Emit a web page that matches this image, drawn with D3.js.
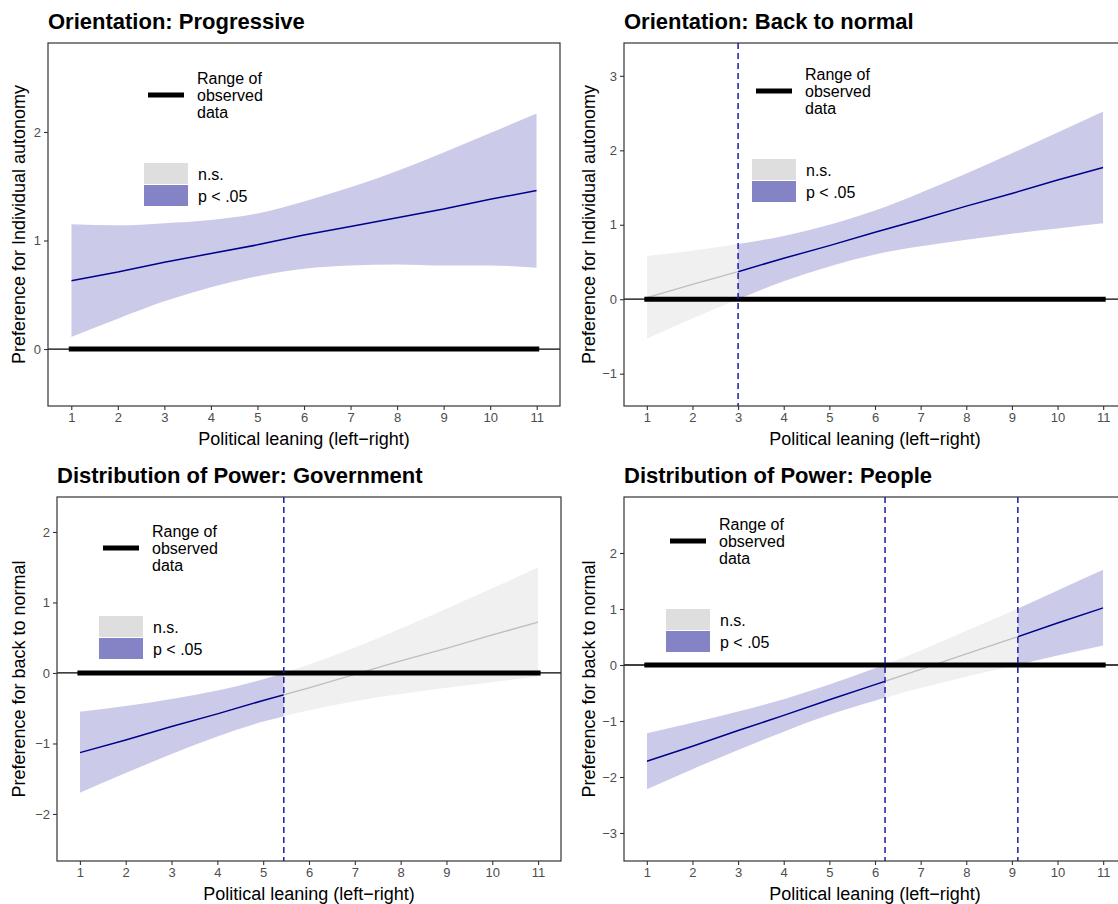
<!DOCTYPE html>
<html>
<head>
<meta charset="utf-8">
<script src="https://cdn.jsdelivr.net/npm/d3@7"></script>
<style>
  body { margin: 0; background: #fff; }
  svg { display: block; font-family: "Liberation Sans", Arial, Helvetica, sans-serif; }
</style>
</head>
<body>
<div id="chart"></div>
<script>
const width = 1118;
const height = 904;

// political leaning values (x) and tick labels
const leaning = [1, 2, 3, 4, 5, 6, 7, 8, 9, 10, 11];
const xTicks = [1, 2, 3, 4, 5, 6, 7, 8, 9, 10, 11];

// Orientation: Progressive
const progFit   = [0.63, 0.71, 0.80, 0.88, 0.96, 1.05, 1.13, 1.21, 1.29, 1.38, 1.46];
const progUpper = [1.15, 1.14, 1.16, 1.19, 1.25, 1.36, 1.49, 1.64, 1.81, 1.99, 2.17];
const progLower = [0.11, 0.28, 0.44, 0.57, 0.67, 0.74, 0.77, 0.78, 0.77, 0.77, 0.75];

// Orientation: Back to normal
const normFit   = [0.02, 0.20, 0.37, 0.55, 0.72, 0.90, 1.07, 1.25, 1.42, 1.60, 1.77];
const normUpper = [0.58, 0.65, 0.74, 0.85, 1.00, 1.19, 1.43, 1.69, 1.96, 2.24, 2.52];
const normLower = [-0.53, -0.26, 0.00, 0.24, 0.44, 0.60, 0.71, 0.80, 0.88, 0.95, 1.02];

// Distribution of Power: Government
const govFit   = [-1.13, -0.95, -0.76, -0.58, -0.39, -0.21, -0.02, 0.17, 0.35, 0.54, 0.72];
const govUpper = [-0.55, -0.47, -0.37, -0.25, -0.09, 0.12, 0.36, 0.63, 0.91, 1.20, 1.50];
const govLower = [-1.70, -1.42, -1.15, -0.90, -0.69, -0.53, -0.40, -0.30, -0.21, -0.13, -0.05];

// Distribution of Power: People
const pplFit   = [-1.72, -1.45, -1.17, -0.90, -0.62, -0.35, -0.08, 0.20, 0.47, 0.75, 1.02];
const pplUpper = [-1.22, -1.03, -0.83, -0.61, -0.35, -0.06, 0.26, 0.61, 0.96, 1.33, 1.70];
const pplLower = [-2.22, -1.86, -1.52, -1.19, -0.89, -0.64, -0.41, -0.21, -0.02, 0.17, 0.35];

// Johnson-Neyman points (dashed lines) and regions
const progJN = [];
const normJN = [3];
const govJN = [5.45];
const pplJN = [6.22, 9.13];

const progSig = [[1, 11]], progNS = [];
const normSig = [[3, 11]], normNS = [[1, 3]];
const govSig = [[1, 5.45]], govNS = [[5.45, 11]];
const pplSig = [[1, 6.22], [9.13, 11]], pplNS = [[6.22, 9.13]];

const observedRange = [1, 11];

const titles = ["Orientation: Progressive", "Orientation: Back to normal",
                "Distribution of Power: Government", "Distribution of Power: People"];
const yTitles = ["Preference for Individual autonomy", "Preference for Individual autonomy",
                 "Preference for back to normal", "Preference for back to normal"];
const xTitle = "Political leaning (left\u2212right)";
const legendRange = ["Range of", "observed", "data"];
const legendFill = ["n.s.", "p < .05"];

const col = {
    sigBand: "#cbcbe9", nsBand: "#f0f0f0",
    sigKey: "#8383c6", nsKey: "#dedede",
    sigLine: "#00008b", nsLine: "#bebebe",
    dash: "#1a1aa8"
};

const panels = [
    { fit: progFit, upper: progUpper, lower: progLower, jn: progJN, sig: progSig, ns: progNS,
      box: { l: 48, r: 560, t: 43, b: 406 }, yDomain: [-0.525, 2.82], yTicks: [0, 1, 2],
      legend: [148, 95], yTitleX: 25 },
    { fit: normFit, upper: normUpper, lower: normLower, jn: normJN, sig: normSig, ns: normNS,
      box: { l: 624, r: 1126, t: 43, b: 406 }, yDomain: [-1.434, 3.441], yTicks: [-1, 0, 1, 2, 3],
      legend: [756, 91], yTitleX: 595 },
    { fit: govFit, upper: govUpper, lower: govLower, jn: govJN, sig: govSig, ns: govNS,
      box: { l: 57, r: 561, t: 497, b: 861 }, yDomain: [-2.667, 2.496], yTicks: [-2, -1, 0, 1, 2],
      legend: [103, 548], yTitleX: 25 },
    { fit: pplFit, upper: pplUpper, lower: pplLower, jn: pplJN, sig: pplSig, ns: pplNS,
      box: { l: 624, r: 1126, t: 497, b: 861 }, yDomain: [-3.5, 3.0], yTicks: [-3, -2, -1, 0, 1, 2],
      legend: [670, 541], yTitleX: 595 }
];

const svg = d3.select("#chart")
    .append("svg")
    .attr("width", width)
    .attr("height", height);

const defs = svg.append("defs");

panels.forEach((p, i) => {
    const b = p.box;
    const x = d3.scaleLinear().domain([0.5, 11.5]).range([b.l, b.r]);
    const y = d3.scaleLinear().domain(p.yDomain).range([b.b, b.t]);

    const g = svg.append("g");

    const pts = leaning.map((v, k) => ({ x: v, fit: p.fit[k], up: p.upper[k], lo: p.lower[k] }));

    const area = d3.area()
        .x(d => x(d.x))
        .y0(d => y(d.lo))
        .y1(d => y(d.up))
        .curve(d3.curveMonotoneX);

    const line = d3.line()
        .x(d => x(d.x))
        .y(d => y(d.fit));

    // clip regions for significant / not significant parts
    function clipFor(region, name) {
        const id = `clip-${i}-${name}`;
        defs.append("clipPath").attr("id", id)
            .append("rect")
            .attr("x", x(region[0]))
            .attr("y", b.t)
            .attr("width", x(region[1]) - x(region[0]))
            .attr("height", b.b - b.t);
        return `url(#${id})`;
    }

    p.ns.forEach((r, k) => {
        const c = clipFor(r, "ns" + k);
        g.append("path").datum(pts).attr("d", area).attr("fill", col.nsBand).attr("clip-path", c);
    });
    p.sig.forEach((r, k) => {
        const c = clipFor(r, "sig" + k);
        g.append("path").datum(pts).attr("d", area).attr("fill", col.sigBand).attr("clip-path", c);
    });
    p.ns.forEach((r, k) => {
        g.append("path").datum(pts).attr("d", line)
            .attr("fill", "none").attr("stroke", col.nsLine).attr("stroke-width", 1.3)
            .attr("clip-path", `url(#clip-${i}-ns${k})`);
    });
    p.sig.forEach((r, k) => {
        g.append("path").datum(pts).attr("d", line)
            .attr("fill", "none").attr("stroke", col.sigLine).attr("stroke-width", 1.5)
            .attr("clip-path", `url(#clip-${i}-sig${k})`);
    });

    // zero reference line and range of observed data
    g.append("line")
        .attr("x1", b.l).attr("x2", b.r)
        .attr("y1", y(0)).attr("y2", y(0))
        .attr("stroke", "#000").attr("stroke-width", 1.3);

    g.append("line")
        .attr("x1", x(observedRange[0])).attr("x2", x(observedRange[1]))
        .attr("y1", y(0)).attr("y2", y(0))
        .attr("stroke", "#000").attr("stroke-width", 5)
        .attr("stroke-linecap", "square");

    // dashed JN lines
    p.jn.forEach(v => {
        g.append("line")
            .attr("x1", x(v)).attr("x2", x(v))
            .attr("y1", b.t).attr("y2", b.b)
            .attr("stroke", col.dash).attr("stroke-width", 1.5)
            .attr("stroke-dasharray", "6,4");
    });

    // panel border
    g.append("rect")
        .attr("x", b.l).attr("y", b.t)
        .attr("width", b.r - b.l).attr("height", b.b - b.t)
        .attr("fill", "none").attr("stroke", "#333").attr("stroke-width", 1.2);

    // axes
    const yAxis = g.append("g")
        .attr("transform", `translate(${b.l}, 0)`)
        .call(d3.axisLeft(y).tickValues(p.yTicks).tickSize(4).tickPadding(3)
            .tickFormat(d => d < 0 ? "\u2212" + Math.abs(d) : d));
    const xAxis = g.append("g")
        .attr("transform", `translate(0, ${b.b})`)
        .call(d3.axisBottom(x).tickValues(xTicks).tickSize(4).tickPadding(3));

    [yAxis, xAxis].forEach(a => {
        a.select(".domain").remove();
        a.selectAll(".tick line").attr("stroke", "#333").attr("stroke-width", 1.1);
        a.selectAll(".tick text").attr("fill", "#4d4d4d").style("font-size", "13px");
    });

    // titles
    g.append("text")
        .attr("x", b.l)
        .attr("y", b.t - 14)
        .attr("font-weight", "bold")
        .style("font-size", "22px")
        .text(titles[i]);

    g.append("text")
        .attr("x", (b.l + b.r) / 2)
        .attr("y", b.b + 39)
        .attr("text-anchor", "middle")
        .style("font-size", "18px")
        .text(xTitle);

    g.append("text")
        .attr("transform", `translate(${p.yTitleX}, ${(b.t + b.b) / 2}) rotate(-90)`)
        .attr("text-anchor", "middle")
        .style("font-size", "18px")
        .text(yTitles[i]);

    // legend
    const [lx, ly] = p.legend;
    const lg = g.append("g").style("font-size", "16px");
    lg.append("line")
        .attr("x1", lx).attr("x2", lx + 36)
        .attr("y1", ly).attr("y2", ly)
        .attr("stroke", "#000").attr("stroke-width", 5);
    legendRange.forEach((t, k) => {
        lg.append("text")
            .attr("x", lx + 49).attr("y", ly + (k - 1) * 17)
            .attr("dy", "0.35em")
            .text(t);
    });
    [col.nsKey, col.sigKey].forEach((c, k) => {
        lg.append("rect")
            .attr("x", lx - 4).attr("y", ly + 68 + k * 22)
            .attr("width", 44).attr("height", 21)
            .attr("fill", c);
        lg.append("text")
            .attr("x", lx + 50).attr("y", ly + 79 + k * 22)
            .attr("dy", "0.35em")
            .text(legendFill[k]);
    });
});
</script>
</body>
</html>
